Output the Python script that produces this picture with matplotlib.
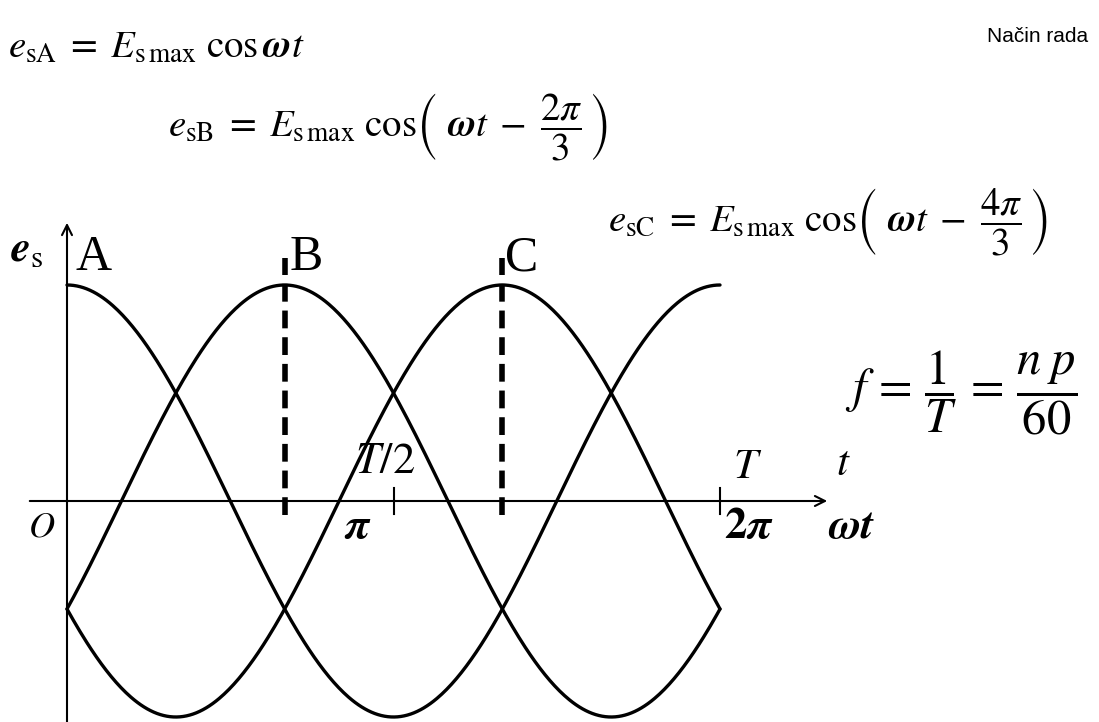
import numpy as np
import matplotlib
matplotlib.use('Agg')
import matplotlib.pyplot as plt

plt.rcParams['mathtext.fontset'] = 'stix'
plt.rcParams['font.family'] = ['Liberation Serif', 'DejaVu Serif']

# faze (pomak) za tri namota, u radijanima
phase_names = ['A', 'B', 'C']
phase_shift = [0.0, 2 * np.pi / 3, 4 * np.pi / 3]
amplitude = 1.0
tick_pos = [np.pi, 2 * np.pi]

# piksel -> podaci (0..2pi je 67..720 px, nula na 501 px, amplituda 216 px)
X0, XS = 67.0, 653.0 / (2 * np.pi)
Y0, YS = 501.0, 216.0


def px(x, y):
    return (x - X0) / XS, (Y0 - y) / YS


fig = plt.figure(figsize=(10.99, 7.22), dpi=100)
ax = fig.add_axes([0, 0, 1, 1])
x_lo, y_lo = px(0, 722)
x_hi, y_hi = px(1099, 0)
ax.set_xlim(x_lo, x_hi)
ax.set_ylim(y_lo, y_hi)
ax.axis('off')

wt = np.linspace(0, 2 * np.pi, 400)
for name, ph in zip(phase_names, phase_shift):
    ax.plot(wt, amplitude * np.cos(wt - ph), color='black', lw=2.4, solid_capstyle='round')

# isprekidane linije na maksimumima B i C
for ph in phase_shift[1:]:
    ax.plot([ph, ph], [px(0, 515)[1], px(0, 258)[1]], color='black', lw=4,
            linestyle=(0, (3.2, 1.6)))

# osi
ax.annotate('', xy=px(830, 501), xytext=px(27, 501),
            arrowprops=dict(arrowstyle='->', lw=1.5, color='black', mutation_scale=18))
ax.annotate('', xy=px(67, 220), xytext=px(67, 730),
            arrowprops=dict(arrowstyle='->', lw=1.5, color='black', mutation_scale=18))
for tp in tick_pos:
    ax.plot([tp, tp], [px(0, 488)[1], px(0, 514)[1]], color='black', lw=1.5)

fs = 28
ax.text(*px(8, 48), r'$e_{\mathrm{sA}}\;=\;E_{\mathrm{s\,max}}\ \cos\boldsymbol{\omega} t$',
        fontsize=fs, va='center', ha='left')
ax.text(*px(168, 127),
        r'$e_{\mathrm{sB}}\;=\;E_{\mathrm{s\,max}}\ \cos\!\left(\ \boldsymbol{\omega} t\;-\;\dfrac{2\pi}{3}\,\right)$',
        fontsize=fs, va='center', ha='left')
ax.text(*px(608, 222),
        r'$e_{\mathrm{sC}}\;=\;E_{\mathrm{s\,max}}\ \cos\!\left(\ \boldsymbol{\omega} t\;-\;\dfrac{4\pi}{3}\,\right)$',
        fontsize=fs, va='center', ha='left')

ax.text(*px(10, 250), r'$\boldsymbol{e}_{\mathrm{s}}$', fontsize=32, va='center', ha='left')
label_px = [(75, 258), (290, 258), (505, 258)]
for name, (lx, ly) in zip(phase_names, label_px):
    ax.text(*px(lx, ly), name, fontsize=36, va='center', ha='left')

ax.text(*px(355, 462), r'$T/2$', fontsize=32, va='center', ha='left')
ax.text(*px(344, 527), r'$\boldsymbol{\pi}$', fontsize=32, va='center', ha='left')
ax.text(*px(733, 468), r'$T$', fontsize=31, va='center', ha='left')
ax.text(*px(836, 465), r'$t$', fontsize=31, va='center', ha='left')
ax.text(*px(724, 527), r'$\mathbf{2}\boldsymbol{\pi}$', fontsize=32, va='center', ha='left')
ax.text(*px(828, 527), r'$\boldsymbol{\omega t}$', fontsize=32, va='center', ha='left')
ax.text(*px(28, 528), r'$O$', fontsize=26, va='center', ha='left')

ax.text(*px(845, 393), r'$f\,=\,\dfrac{1}{T}\,=\,\dfrac{n\;p}{60}$',
        fontsize=35, va='center', ha='left')

ax.text(*px(1088, 36), 'Način rada', fontsize=15, va='center', ha='right',
        family=['Liberation Sans', 'DejaVu Sans'])

fig.savefig('out.png', dpi=100, facecolor='white')
